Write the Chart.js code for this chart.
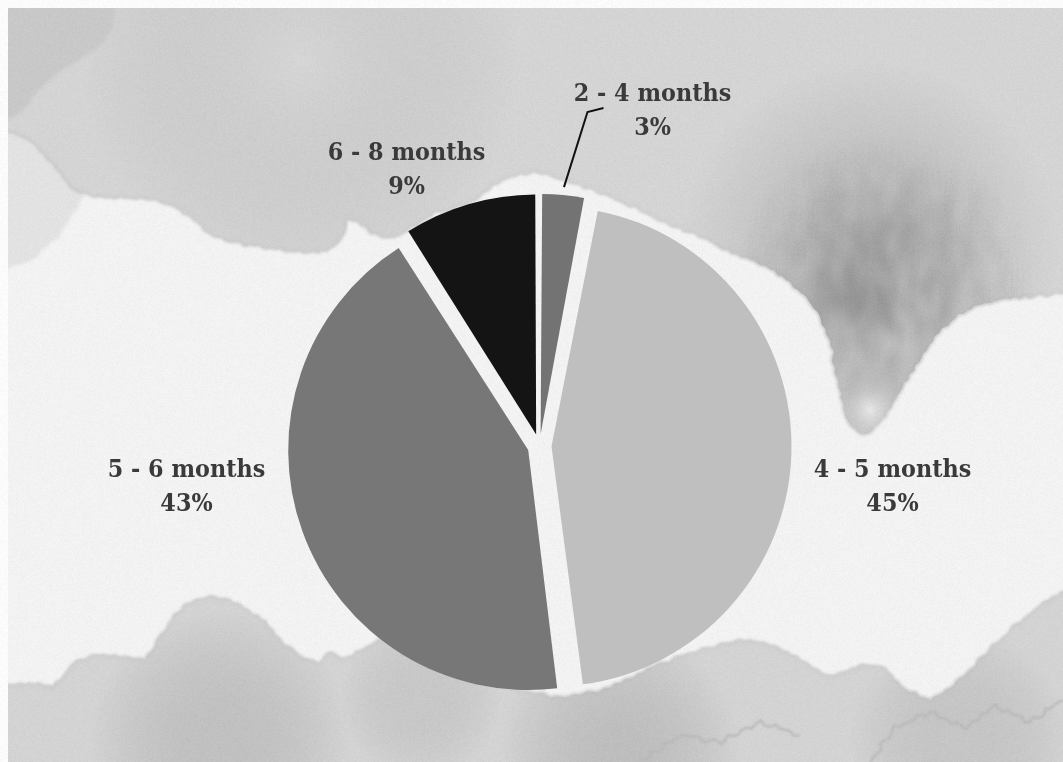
<!DOCTYPE html>
<html>
<head>
<meta charset="utf-8">
<title>Duration</title>
<script src="https://cdn.jsdelivr.net/npm/chart.js@4.4.1/dist/chart.umd.min.js"></script>
<style>
  html, body { margin: 0; padding: 0; background: #fbfbfb; }
  #wrap { width: 1063px; height: 762px; }
</style>
</head>
<body>
<div id="wrap"><canvas id="pie" width="1063" height="762"></canvas></div>
<script>
const labels = ['2 - 4 months', '4 - 5 months', '5 - 6 months', '6 - 8 months'];
const shares = [3, 45, 43, 9];
const sliceColors = ['#737373', '#bfbfbf', '#777777', '#141414'];

const PIE_RADIUS = 240;
const EXPLODE = 12;          // px every slice is pulled away from the centre
const TEXT_COLOR = '#3a3a3a';

// where each label block sits, relative to the pie centre
const labelAnchors = [[113, -334], [353, 42], [-353, 42], [-133, -275]];

// ---------- watercolour backdrop ----------

function hash(x, y) {
    let n = Math.imul(x | 0, 374761393) + Math.imul(y | 0, 668265263);
    n = Math.imul(n ^ (n >>> 13), 1274126177);
    return ((n ^ (n >>> 16)) & 255) / 255;
}

function roughen(pts, amp, seed, closed = true) {
    const out = [];
    const last = closed ? pts.length : pts.length - 1;
    for (let i = 0; i < last; i++) {
        const a = pts[i], b = pts[(i + 1) % pts.length];
        const dx = b[0] - a[0], dy = b[1] - a[1];
        const len = Math.hypot(dx, dy);
        const steps = Math.max(1, Math.round(len / 5));
        const nx = -dy / (len || 1), ny = dx / (len || 1);
        for (let s = 0; s < steps; s++) {
            const t = s / steps;
            const k = (i * 7.3 + t * 3.1) + seed;
            const w = amp * (Math.sin(k * 5.7) * 0.6 + Math.sin(k * 13.1) * 0.3 + Math.sin(k * 29.3) * 0.2);
            out.push([a[0] + dx * t + nx * w, a[1] + dy * t + ny * w]);
        }
    }
    if (!closed) out.push(pts[pts.length - 1]);
    return out;
}

function tracePath(ctx, pts) {
    ctx.beginPath();
    const n = pts.length;
    ctx.moveTo((pts[n - 1][0] + pts[0][0]) / 2, (pts[n - 1][1] + pts[0][1]) / 2);
    for (let i = 0; i < n; i++) {
        const p = pts[i], q = pts[(i + 1) % n];
        ctx.quadraticCurveTo(p[0], p[1], (p[0] + q[0]) / 2, (p[1] + q[1]) / 2);
    }
    ctx.closePath();
}

function traceLine(ctx, pts) {
    ctx.beginPath();
    ctx.moveTo(pts[0][0], pts[0][1]);
    for (let i = 1; i < pts.length; i++) ctx.lineTo(pts[i][0], pts[i][1]);
}

function wash(ctx, pts, fill, edge, amp, seed) {
    const path = roughen(pts, amp, seed);
    ctx.save();
    ctx.filter = 'blur(1.5px)';
    tracePath(ctx, path);
    ctx.fillStyle = fill;
    ctx.fill();
    if (edge) {
        ctx.strokeStyle = edge;
        ctx.lineWidth = 2.5;
        ctx.stroke();
    }
    ctx.restore();
    return path;
}

function spot(ctx, clipPath, x, y, r, color) {
    ctx.save();
    if (clipPath) { tracePath(ctx, clipPath); ctx.clip(); }
    const g = ctx.createRadialGradient(x, y, 0, x, y, r);
    g.addColorStop(0, color);
    g.addColorStop(1, 'rgba(150,150,150,0)');
    ctx.fillStyle = g;
    ctx.fillRect(x - r, y - r, r * 2, r * 2);
    ctx.restore();
}

// mottled pigment where the wash pooled, fading out from its middle
function mottle(ctx, clipPath, cx, cy, rx, ry, alpha) {
    ctx.save();
    tracePath(ctx, clipPath);
    ctx.clip();
    ctx.filter = 'blur(4px)';
    for (let x = cx - rx; x < cx + rx; x += 6) {
        for (let y = cy - ry; y < cy + ry; y += 9) {
            const h = hash(x, y);
            const d = Math.hypot((x - cx) / rx, (y - cy) / ry);
            const fall = Math.max(0, 1 - d);
            if (h < 0.45 || fall <= 0) continue;
            ctx.fillStyle = `rgba(110,110,110,${(alpha * h * fall).toFixed(3)})`;
            ctx.fillRect(x, y, 5, 8 + h * 14);
        }
    }
    ctx.restore();
}

function grain(ctx, w, h) {
    const img = ctx.getImageData(0, 0, w, h);
    const d = img.data;
    for (let y = 0; y < h; y++) {
        for (let x = 0; x < w; x++) {
            const i = (y * w + x) * 4;
            const v = (hash(x, y) - 0.5) * 7;
            d[i] += v; d[i + 1] += v; d[i + 2] += v;
        }
    }
    ctx.putImageData(img, 0, 0);
}

const backdrop = {
    id: 'backdrop',
    beforeDraw(chart) {
        const ctx = chart.ctx;
        const W = chart.width, H = chart.height;
        ctx.save();
        ctx.fillStyle = '#fbfbfb';
        ctx.fillRect(0, 0, W, H);
        ctx.beginPath();
        ctx.rect(8, 8, W - 8, H - 8);
        ctx.clip();
        ctx.fillStyle = '#f2f2f2';
        ctx.fillRect(8, 8, W, H);

        // light wash down the left edge
        wash(ctx, [[0, 90], [70, 150], [85, 195], [60, 235], [30, 262], [0, 270]], '#e2e2e2', null, 2, 4);

        // grey band across the top
        const top = wash(ctx, [
            [0, 0], [1070, 0], [1070, 292], [1030, 296], [1000, 300], [975, 306], [955, 318],
            [935, 336], [918, 362], [903, 388], [888, 412], [872, 430], [858, 433], [846, 418],
            [838, 388], [832, 352], [822, 320], [808, 300], [790, 283], [770, 269], [745, 258],
            [720, 246], [700, 236], [680, 228], [660, 220], [640, 210], [620, 200], [600, 192],
            [580, 185], [560, 178], [540, 172], [520, 173], [500, 180], [485, 192], [470, 202],
            [452, 208], [435, 212], [420, 222], [405, 232], [390, 238], [372, 233], [358, 222],
            [348, 218], [343, 232], [335, 246], [318, 252], [295, 252], [270, 248], [245, 244],
            [225, 240], [208, 232], [195, 220], [180, 210], [165, 202], [145, 198], [120, 197],
            [95, 196], [75, 190], [55, 165], [30, 140], [0, 128]
        ], '#d4d4d4', '#c6c6c6', 2.5, 1);

        // darker pooling on the right of the band
        spot(ctx, top, 870, 250, 190, 'rgba(150,150,150,0.6)');
        mottle(ctx, top, 880, 280, 150, 150, 0.35);
        spot(ctx, top, 845, 300, 55, 'rgba(125,125,125,0.5)');
        spot(ctx, top, 870, 410, 45, 'rgba(235,235,235,0.9)');
        spot(ctx, top, 300, 60, 220, 'rgba(215,215,215,0.5)');

        // darker blob in the top-left corner
        wash(ctx, [[0, 0], [116, 0], [113, 28], [100, 46], [78, 60], [55, 75], [36, 92], [22, 112], [0, 122]],
            '#c8c8c8', null, 2, 7);

        // washes along the bottom
        const bottom = wash(ctx, [
            [0, 686], [30, 683], [53, 687], [70, 670], [80, 660], [100, 655], [125, 657], [145, 660],
            [160, 638], [175, 615], [190, 603], [210, 597], [230, 600], [245, 610], [265, 622],
            [285, 645], [305, 660], [320, 666], [328, 652], [345, 660], [360, 650], [375, 643],
            [395, 632], [420, 642], [450, 660], [480, 676], [520, 690], [560, 698], [600, 690],
            [630, 678], [660, 664], [700, 650], [740, 641], [775, 646], [800, 660], [830, 678],
            [860, 665], [885, 668], [905, 690], [930, 700], [960, 680], [990, 650], [1020, 622],
            [1045, 602], [1070, 590], [1070, 770], [0, 770]
        ], '#d3d3d3', '#c4c4c4', 2.5, 11);
        spot(ctx, bottom, 220, 740, 130, 'rgba(185,185,185,0.7)');
        spot(ctx, bottom, 620, 750, 120, 'rgba(180,180,180,0.7)');
        spot(ctx, bottom, 960, 740, 110, 'rgba(190,190,190,0.6)');
        spot(ctx, bottom, 420, 700, 80, 'rgba(190,190,190,0.5)');

        // tide lines in the lower right
        ctx.save();
        ctx.filter = 'blur(1px)';
        ctx.strokeStyle = '#b7b7b7';
        ctx.lineWidth = 2;
        traceLine(ctx, roughen([[870, 762], [895, 728], [930, 712], [965, 728], [995, 706], [1030, 722], [1063, 700]], 3, 19, false));
        ctx.stroke();
        traceLine(ctx, roughen([[640, 762], [680, 735], [720, 742], [760, 722], [800, 735]], 3, 23, false));
        ctx.stroke();
        ctx.restore();

        ctx.restore();
        grain(ctx, W, H);
    }
};

// keep every exploded slice at the same radius
const evenRadius = {
    id: 'evenRadius',
    afterDatasetsUpdate(chart) {
        chart.getDatasetMeta(0).data.forEach(arc => {
            const fix = 1 - Math.sin(Math.min(Math.PI, arc.circumference));
            arc.outerRadius = PIE_RADIUS - EXPLODE * fix;
        });
    }
};

const sliceLabels = {
    id: 'sliceLabels',
    afterDatasetsDraw(chart) {
        const ctx = chart.ctx;
        const arcs = chart.getDatasetMeta(0).data;
        const cx = arcs[0].x, cy = arcs[0].y;
        ctx.save();

        // leader line for the thin 2 - 4 slice
        const a0 = arcs[0];
        const mid = (a0.startAngle + a0.endAngle) / 2;
        const ox = cx + Math.cos(mid) * EXPLODE, oy = cy + Math.sin(mid) * EXPLODE;
        const [lx, ly] = labelAnchors[0];
        ctx.strokeStyle = '#111111';
        ctx.lineWidth = 2;
        ctx.beginPath();
        ctx.moveTo(ox + Math.cos(mid) * (PIE_RADIUS + 8), oy + Math.sin(mid) * (PIE_RADIUS + 8));
        ctx.lineTo(cx + lx - 65, cy + ly);
        ctx.lineTo(cx + lx - 49, cy + ly - 4);
        ctx.stroke();

        ctx.fillStyle = TEXT_COLOR;
        ctx.font = 'bold 24px "DejaVu Serif", "Liberation Serif", serif';
        ctx.textAlign = 'center';
        ctx.textBaseline = 'middle';
        labels.forEach((name, i) => {
            const [dx, dy] = labelAnchors[i];
            ctx.save();
            ctx.translate(cx + dx, cy + dy);
            ctx.scale(0.93, 1);
            ctx.fillText(name, 0, -17);
            ctx.fillText(shares[i] + '%', 0, 17);
            ctx.restore();
        });
        ctx.restore();
    }
};

new Chart(document.getElementById('pie'), {
    type: 'pie',
    data: {
        labels: labels,
        datasets: [{
            data: shares,
            backgroundColor: sliceColors,
            borderWidth: 0,
            offset: EXPLODE * 4,
            hoverOffset: 0,
            radius: PIE_RADIUS
        }]
    },
    options: {
        responsive: false,
        devicePixelRatio: 1,
        animation: false,
        layout: {
            padding: { left: 16, right: 0, top: 130, bottom: 0 }
        },
        plugins: {
            legend: { display: false },
            tooltip: { enabled: false }
        }
    },
    plugins: [backdrop, evenRadius, sliceLabels]
});
</script>
</body>
</html>
